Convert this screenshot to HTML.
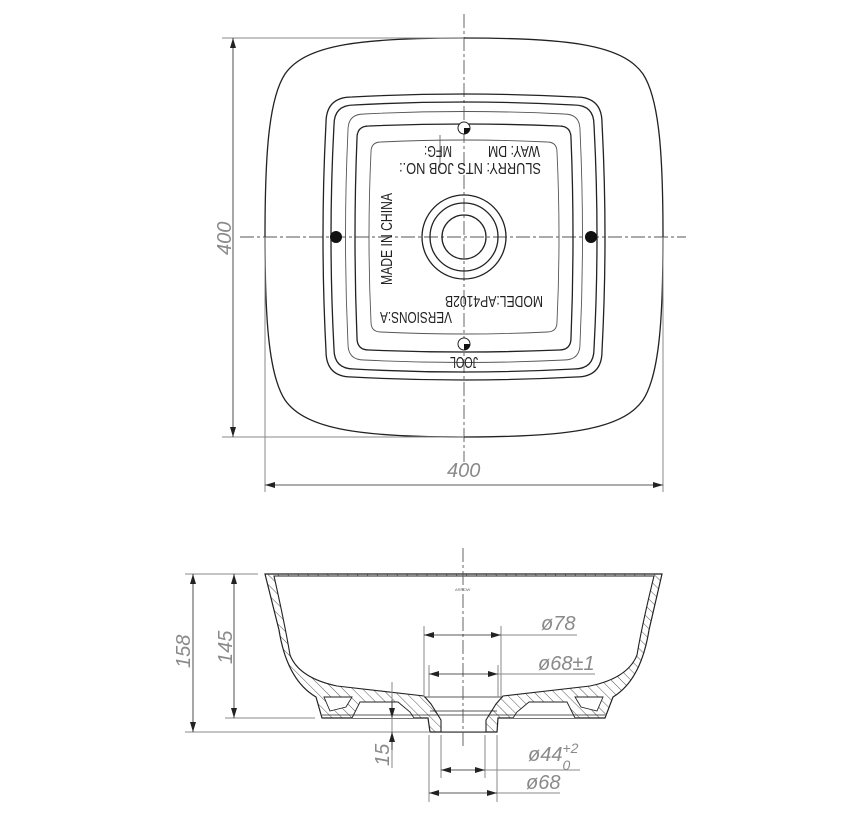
<!DOCTYPE html>
<html><head><meta charset="utf-8"><style>
html,body{margin:0;padding:0;background:#fff}
svg{display:block}
.dim{stroke:#8a8a8a;stroke-width:1;fill:none}
.dt{font-family:"Liberation Sans",sans-serif;font-style:italic;fill:#8a8a8a;font-size:20px}
.lbl{font-family:"Liberation Sans",sans-serif;fill:#222;font-size:15.5px}
.k{stroke:#222;fill:none;stroke-width:1.3}
.cl{stroke:#555;stroke-width:0.9;stroke-dasharray:14 3 3 3;fill:none}
</style></head><body>
<svg width="844" height="817" viewBox="0 0 844 817" xmlns="http://www.w3.org/2000/svg">
<defs>
<marker id="ar" markerWidth="10" markerHeight="6" refX="10" refY="3" orient="auto-start-reverse" markerUnits="userSpaceOnUse"><path d="M0,0 L10,3 L0,6 z" fill="#222"/></marker>
<pattern id="h" width="7" height="7" patternUnits="userSpaceOnUse" patternTransform="rotate(-45)"><rect width="7" height="7" fill="#fff"/><line x1="0" y1="0" x2="0" y2="7" stroke="#444" stroke-width="0.9"/></pattern>
</defs>

<!-- TOP VIEW -->
<line class="cl" x1="464" y1="14" x2="464" y2="462"/>
<line class="cl" x1="240" y1="237" x2="686" y2="237"/>
<path class="k" d="M464,38 C565,38 622,44 643,74 C660,100 663,160 663,237 C663,314 660,374 643,400 C622,430 565,437 464,437 C363,437 306,430 285,400 C268,374 265,314 265,237 C265,160 268,100 285,74 C306,44 363,38 464,38 Z"/>
<path class="k" d="M352,97 Q464,91 576,97 Q602,97 602,123 Q608,237 602,351 Q602,377 576,377 Q464,383 352,377 Q326,377 326,351 Q320,237 326,123 Q326,97 352,97Z"/>
<path class="k" stroke-width="1" d="M354,105 Q464,99 574,105 Q594,105 594,125 Q600,237 594,349 Q594,369 574,369 Q464,375 354,369 Q334,369 334,349 Q328,237 334,125 Q334,105 354,105Z"/>
<path fill="none" stroke="#555" stroke-width="0.9" d="M364,114 Q464,109 564,114 Q580,114 580,130 Q585,237 580,344 Q580,360 564,360 Q464,365 364,360 Q348,360 348,344 Q343,237 348,130 Q348,114 364,114Z"/>
<path class="k" d="M369,126 Q464,122 559,126 Q571,126 571,138 Q575,237 571,338 Q571,350 559,350 Q464,354 369,350 Q357,350 357,338 Q353,237 357,138 Q357,126 369,126Z"/>
<path fill="none" stroke="#555" stroke-width="0.9" d="M381,142 Q464,138 547,142 Q557,142 557,152 Q561,237 557,322 Q557,332 547,332 Q464,336 381,332 Q371,332 371,322 Q367,237 371,152 Q371,142 381,142Z"/>
<circle class="k" cx="464" cy="237" r="42"/>
<circle class="k" cx="464" cy="237" r="34"/>
<circle class="k" cx="464" cy="237" r="22"/>
<circle cx="336" cy="237" r="6" fill="#111"/>
<circle cx="591" cy="237" r="6" fill="#111"/>
<circle cx="464" cy="128" r="6" fill="#fff" stroke="#222"/>
<path d="M464,128 L470,128 A6,6 0 0 1 464,134 Z" fill="#111"/>
<circle cx="464" cy="344" r="6" fill="#fff" stroke="#222"/>
<path d="M464,344 L470,344 A6,6 0 0 1 464,350 Z" fill="#111"/>
<line x1="440" y1="135" x2="440" y2="168" stroke="#555" stroke-width="0.8"/>
<text class="lbl" transform="translate(540,146) rotate(180)" textLength="52" lengthAdjust="spacingAndGlyphs">WAY: DM</text>
<text class="lbl" transform="translate(452,146) rotate(180)" textLength="28" lengthAdjust="spacingAndGlyphs">MFG:</text>
<text class="lbl" transform="translate(541,163) rotate(180)" textLength="142" lengthAdjust="spacingAndGlyphs">SLURRY: NTS  JOB NO.:</text>
<text class="lbl" transform="translate(543,296) rotate(180)" textLength="98" lengthAdjust="spacingAndGlyphs">MODEL:AP4102B</text>
<text class="lbl" transform="translate(452,312) rotate(180)" textLength="72" lengthAdjust="spacingAndGlyphs">VERSIONS:A</text>
<text class="lbl" transform="translate(392,285) rotate(-90)" textLength="92" lengthAdjust="spacingAndGlyphs">MADE IN CHINA</text>
<text class="lbl" font-size="11" transform="translate(478,357) rotate(180)" textLength="28" lengthAdjust="spacingAndGlyphs">JOOL</text>

<!-- top dims -->
<line class="dim" x1="222" y1="38" x2="464" y2="38"/>
<line class="dim" x1="222" y1="437" x2="464" y2="437"/>
<line x1="233" y1="38" x2="233" y2="437" stroke="#222" stroke-width="0.8" marker-start="url(#ar)" marker-end="url(#ar)"/>
<text class="dt" transform="translate(231,255) rotate(-90)">400</text>
<line class="dim" x1="265" y1="237" x2="265" y2="492"/>
<line class="dim" x1="663" y1="237" x2="663" y2="492"/>
<line x1="265" y1="485" x2="663" y2="485" stroke="#222" stroke-width="0.8" marker-start="url(#ar)" marker-end="url(#ar)"/>
<text class="dt" x="447" y="477">400</text>

<!-- SIDE VIEW -->
<path d="M265,574 L662,574 L649,630 Q641,680 613,697 L605,718 L498,718 L497,732 L430,732 L428,718 L322,718 L316,697 Q287,680 279,630 Z" fill="url(#h)" stroke="#222" stroke-width="1.2"/>
<path d="M274,576 L654,576 Q642,625 637,655 Q628,678 590,686 L503,696 L496,704 L486,720 L486,732 L441,732 L441,720 L431,704 L424,696 L337,686 Q299,678 290,655 Q285,625 274,576 Z" fill="#fff" stroke="#222" stroke-width="1.1"/>
<path d="M324,697 L352,697 L346,707 L330,711 Z" fill="#fff" stroke="#222" stroke-width="0.9"/>
<path d="M603,697 L575,697 L581,707 L597,711 Z" fill="#fff" stroke="#222" stroke-width="0.9"/>
<path d="M352,718 L360,702 L398,702 L410,712 L414,718" fill="#fff" stroke="#222" stroke-width="0.9"/>
<path d="M575,718 L567,702 L529,702 L517,712 L513,718" fill="#fff" stroke="#222" stroke-width="0.9"/>
<line x1="322" y1="715" x2="605" y2="715" stroke="#222" stroke-width="0.7"/>
<line x1="424" y1="697" x2="503" y2="697" stroke="#222" stroke-width="0.8"/>
<line x1="430" y1="711" x2="497" y2="711" stroke="#222" stroke-width="0.8"/>
<line class="cl" x1="463" y1="548" x2="463" y2="748"/>
<text x="455" y="591" font-family="Liberation Sans,sans-serif" font-size="4" fill="#666">ARROW</text>

<!-- side dims -->
<line class="dim" x1="185" y1="574" x2="258" y2="574"/>
<line class="dim" x1="185" y1="732" x2="430" y2="732"/>
<line class="dim" x1="225" y1="718" x2="315" y2="718"/>
<line x1="193" y1="574" x2="193" y2="732" stroke="#222" stroke-width="0.8" marker-start="url(#ar)" marker-end="url(#ar)"/>
<line x1="234" y1="574" x2="234" y2="718" stroke="#222" stroke-width="0.8" marker-start="url(#ar)" marker-end="url(#ar)"/>
<text class="dt" transform="translate(190,668) rotate(-90)">158</text>
<text class="dt" transform="translate(232,664) rotate(-90)">145</text>
<line class="dim" x1="392" y1="682" x2="392" y2="768"/>
<line x1="392" y1="700" x2="392" y2="718" stroke="#222" stroke-width="0.8" marker-end="url(#ar)"/>
<line x1="392" y1="750" x2="392" y2="732" stroke="#222" stroke-width="0.8" marker-end="url(#ar)"/>
<text class="dt" transform="translate(389,766) rotate(-90)">15</text>

<line class="dim" x1="424" y1="626" x2="424" y2="697"/>
<line class="dim" x1="501" y1="626" x2="501" y2="697"/>
<line class="dim" x1="501" y1="635" x2="577" y2="635"/>
<line x1="424" y1="635" x2="501" y2="635" stroke="#222" stroke-width="0.8" marker-start="url(#ar)" marker-end="url(#ar)"/>
<text class="dt" x="541" y="630">ø78</text>

<line class="dim" x1="429" y1="665" x2="429" y2="697"/>
<line class="dim" x1="498" y1="665" x2="498" y2="697"/>
<line class="dim" x1="498" y1="674" x2="595" y2="674"/>
<line x1="429" y1="674" x2="498" y2="674" stroke="#222" stroke-width="0.8" marker-start="url(#ar)" marker-end="url(#ar)"/>
<text class="dt" x="538" y="670">ø68±1</text>

<line class="dim" x1="441" y1="735" x2="441" y2="778"/>
<line class="dim" x1="485" y1="735" x2="485" y2="778"/>
<line class="dim" x1="485" y1="770" x2="580" y2="770"/>
<line x1="441" y1="770" x2="485" y2="770" stroke="#222" stroke-width="0.8" marker-start="url(#ar)" marker-end="url(#ar)"/>
<text class="dt" x="528" y="761">ø44<tspan font-size="14" dy="-8">+2</tspan><tspan font-size="14" dx="-16" dy="17">0</tspan></text>

<line class="dim" x1="429" y1="735" x2="429" y2="802"/>
<line class="dim" x1="497" y1="735" x2="497" y2="802"/>
<line class="dim" x1="497" y1="793" x2="560" y2="793"/>
<line x1="429" y1="793" x2="497" y2="793" stroke="#222" stroke-width="0.8" marker-start="url(#ar)" marker-end="url(#ar)"/>
<text class="dt" x="526" y="789">ø68</text>
</svg>
</body></html>
